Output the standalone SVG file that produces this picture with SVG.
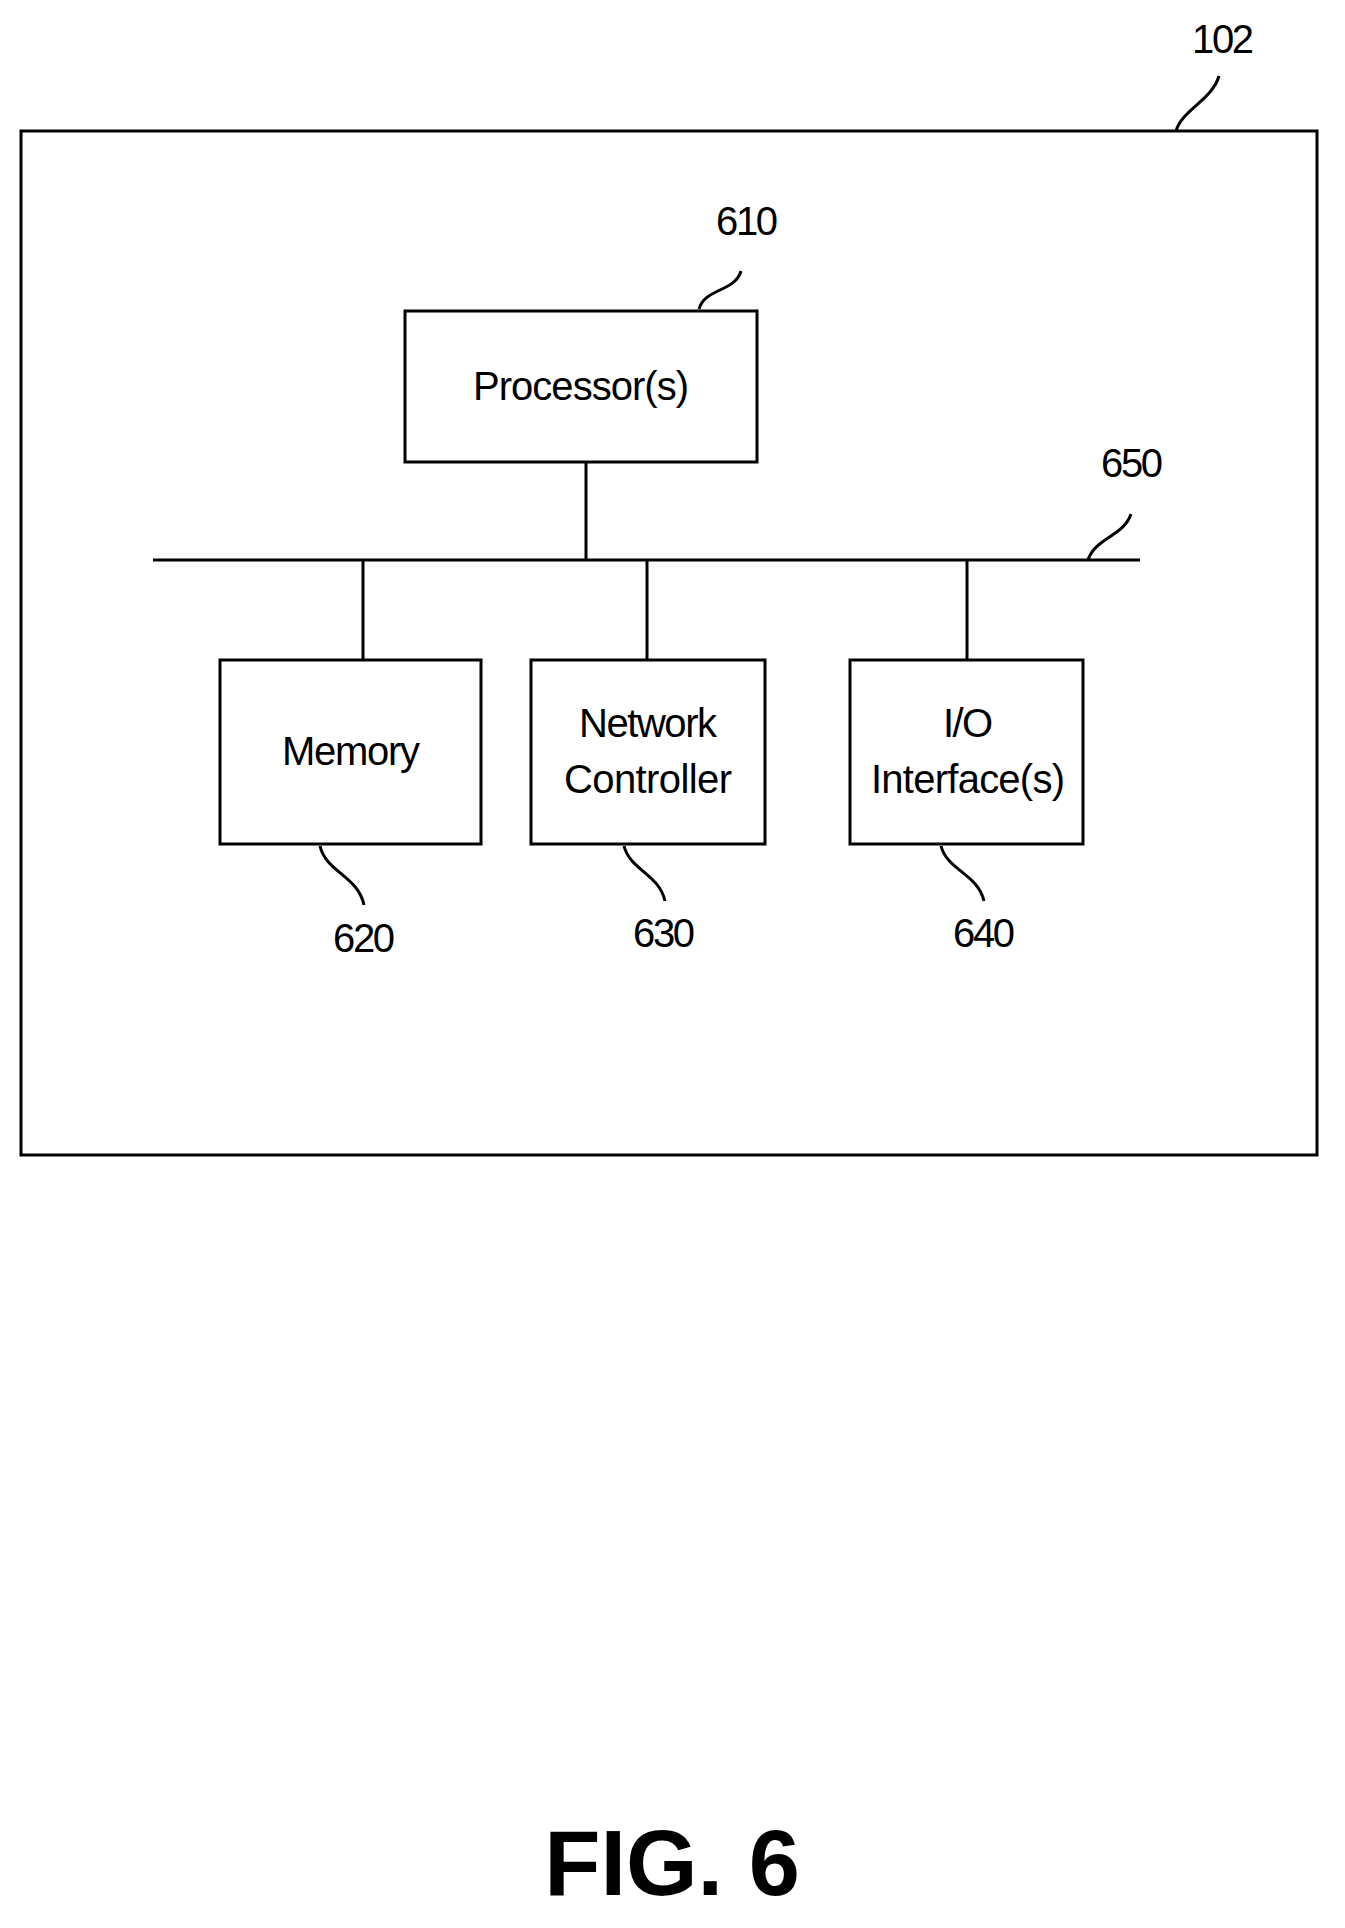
<svg xmlns="http://www.w3.org/2000/svg" width="1345" height="1928" viewBox="0 0 1345 1928">
<style>
.b{fill:#fff;stroke:#000;stroke-width:3}
.l{fill:none;stroke:#000;stroke-width:3}
.t{font-family:"Liberation Sans",Arial,sans-serif;font-size:40px;text-anchor:middle;fill:#000}
</style>
<rect width="1345" height="1928" fill="#fff"/>
<g id="device102"><rect class="b" x="21" y="131" width="1296" height="1024"/>
<text class="t" x="1223" y="53" textLength="62">102</text>
<path class="l" d="M1176,131 C1182,110 1212,100 1219,76"/></g>
<g id="connectors">
<line class="l" x1="153" y1="560" x2="1140" y2="560"/>
<line class="l" x1="586" y1="462" x2="586" y2="560"/>
<line class="l" x1="363" y1="560" x2="363" y2="660"/>
<line class="l" x1="647" y1="560" x2="647" y2="660"/>
<line class="l" x1="967" y1="560" x2="967" y2="660"/>
<text class="t" x="1132" y="477" textLength="62">650</text>
<path class="l" d="M1088,560 C1095,538 1124,536 1131,514"/>
</g>
<g id="proc610"><rect class="b" x="405" y="311" width="352" height="151"/>
<text class="t" x="581" y="400" textLength="216">Processor(s)</text>
<text class="t" x="747" y="235" textLength="62">610</text>
<path class="l" d="M699,309 C705,288 735,292 741,271"/></g>
<g id="mem620"><rect class="b" x="220" y="660" width="261" height="184"/>
<text class="t" x="351" y="765" textLength="138">Memory</text>
<text class="t" x="364" y="952" textLength="62">620</text>
<path class="l" d="M320,846 C326,872 358,876 364,905"/></g>
<g id="net630"><rect class="b" x="531" y="660" width="234" height="184"/>
<text class="t" x="648" y="737" textLength="138">Network</text>
<text class="t" x="648" y="793" textLength="168">Controller</text>
<text class="t" x="664" y="947" textLength="62">630</text>
<path class="l" d="M624,846 C630,870 659,874 665,901"/></g>
<g id="io640"><rect class="b" x="850" y="660" width="233" height="184"/>
<text class="t" x="968" y="737" textLength="50">I/O</text>
<text class="t" x="968" y="793" textLength="194">Interface(s)</text>
<text class="t" x="984" y="947" textLength="62">640</text>
<path class="l" d="M941,846 C947,870 978,874 984,901"/></g>
<text x="672" y="1895" font-family="Liberation Sans,Arial,sans-serif" font-weight="bold" font-size="92" text-anchor="middle">FIG. 6</text>
</svg>
